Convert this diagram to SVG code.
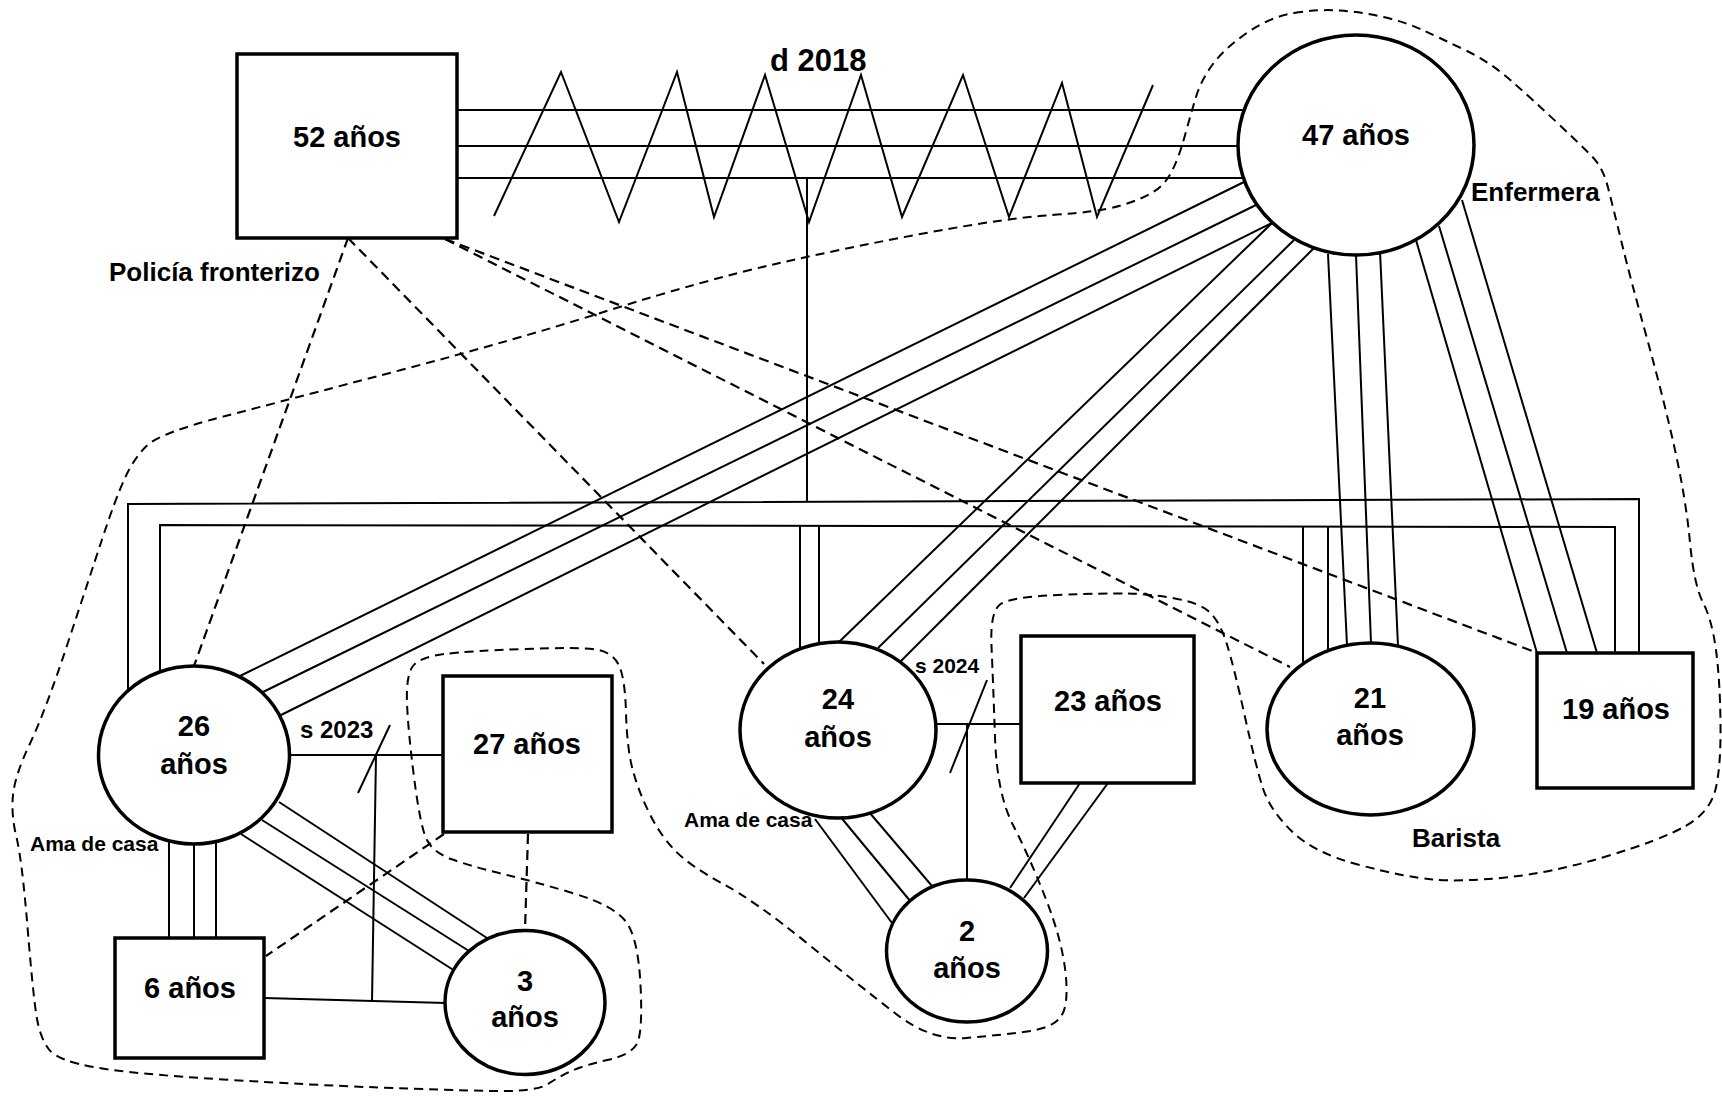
<svg xmlns="http://www.w3.org/2000/svg" width="1722" height="1102" viewBox="0 0 1722 1102">
<style>
.bg{fill:#fff}
.ln{stroke:#000;stroke-width:2;fill:none}
.ds{stroke:#000;stroke-width:2.2;fill:none;stroke-dasharray:10 6}
.en{stroke:#000;stroke-width:2;fill:none;stroke-dasharray:9 6}
.nd{stroke:#000;stroke-width:3.5;fill:#fff}
text{font-family:"Liberation Sans",Arial,sans-serif;font-weight:bold;fill:#000}
.nm{font-size:29px;text-anchor:middle}
.lb{font-size:26px}
.sm{font-size:21px}
</style>
<rect class="bg" x="0" y="0" width="1722" height="1102"/>
<g id="enclosure">
<path class="en" d="M 1294 13 Q 1318 9 1340 10.5 Q 1362 12 1383.5 17 Q 1405 22 1422.5 30 Q 1440 38 1465 50 Q 1490 62 1511.5 81 Q 1533 100 1558 123.5 Q 1583 147 1593 157.5 Q 1603 168 1608 187.5 Q 1613 207 1621.5 242 Q 1630 277 1647 338.5 Q 1664 400 1675 450 Q 1686 500 1690 542.5 Q 1694 585 1703 602.5 Q 1712 620 1716 650 Q 1720 680 1720.5 723.5 Q 1721 767 1715.5 789.5 Q 1710 812 1685.5 826 Q 1661 840 1606 856.5 Q 1551 873 1505.5 877.5 Q 1460 882 1432.5 879.5 Q 1405 877 1359.5 865 Q 1314 853 1292 831.5 Q 1270 810 1263 788.5 Q 1256 767 1245 717 Q 1234 667 1227 644.5 Q 1220 622 1210 612.5 Q 1200 603 1175 598.5 Q 1150 594 1128 593.5 Q 1106 593 1058 595 Q 1010 597 1000 604.5 Q 990 612 991.5 646 Q 993 680 995 737 Q 997 794 1013 825 Q 1029 856 1045.5 898 Q 1062 940 1065.5 972.5 Q 1069 1005 1061 1016.5 Q 1053 1028 1027 1031.5 Q 1001 1035 966 1038 Q 931 1041 895.5 1013.5 Q 860 986 807.5 943.5 Q 755 901 722.5 883.5 Q 690 866 675 850.5 Q 660 835 649 812.5 Q 638 790 632.5 769 Q 627 748 626 712.5 Q 625 677 618.5 664.5 Q 612 652 596 649.5 Q 580 647 524.5 649 Q 469 651 444.5 654 Q 420 657 413 666 Q 406 675 407 702.5 Q 408 730 414 777 Q 420 824 426 838 Q 432 852 451 859 Q 470 866 503 874 Q 536 882 574 893.5 Q 612 905 625 920.5 Q 638 936 640.5 985 Q 643 1034 636.5 1044.5 Q 630 1055 607.5 1060 Q 585 1065 572.5 1070.5 Q 560 1076 548 1084 Q 536 1092 491 1091 Q 446 1090 379 1087.5 Q 312 1085 223 1079.5 Q 134 1074 96 1067.5 Q 58 1061 49 1049.5 Q 40 1038 36.5 1016 Q 33 994 27.5 927 Q 22 860 16.5 837.5 Q 11 815 13 795 Q 15 775 30 743.5 Q 45 712 67 645.5 Q 89 579 102 539.5 Q 115 500 124.5 479 Q 134 458 147 445.5 Q 160 433 223.5 416.5 Q 287 400 401 370 Q 515 340 610 310 Q 705 280 777.5 263.5 Q 850 247 928.5 232.5 Q 1007 218 1052.5 215 Q 1098 212 1119 206 Q 1140 200 1152.5 192.5 Q 1165 185 1172 171 Q 1179 157 1184.5 137 Q 1190 117 1195.5 98.5 Q 1201 80 1213 64 Q 1225 48 1247.5 32.5 Q 1270 17 1294 13 Z"/>
</g>
<g id="connectors">
<line class="ln" x1="448" y1="110" x2="1244" y2="110"/>
<line class="ln" x1="457" y1="146" x2="1238" y2="146"/>
<line class="ln" x1="457" y1="178" x2="1243" y2="178"/>
<polyline class="ln" points="494,216 561,72 619,222 677,72 714,217 765,75 809,222 861,75 902,217 963,75 1009,217 1062,83 1097,217 1153,85"/>
<line class="ln" x1="807" y1="178" x2="807" y2="502"/>
<polyline class="ln" points="128,691 128,504 1639,499 1639,653"/>
<polyline class="ln" points="160,672 160,525 1615,527 1615,653"/>
<line class="ln" x1="800" y1="526" x2="800" y2="648"/>
<line class="ln" x1="819" y1="526" x2="819" y2="643"/>
<line class="ln" x1="1303" y1="527" x2="1303" y2="664"/>
<line class="ln" x1="1328" y1="527" x2="1328" y2="651"/>
<line class="ln" x1="1244" y1="182" x2="240" y2="676"/>
<line class="ln" x1="1256" y1="205" x2="263" y2="692"/>
<line class="ln" x1="1272" y1="223" x2="281" y2="715"/>
<line class="ln" x1="1272" y1="223" x2="839" y2="642"/>
<line class="ln" x1="1294" y1="240" x2="878" y2="648"/>
<line class="ln" x1="1314" y1="248" x2="901" y2="661"/>
<line class="ln" x1="1328" y1="254" x2="1347" y2="645"/>
<line class="ln" x1="1356" y1="255" x2="1371" y2="643"/>
<line class="ln" x1="1380" y1="251" x2="1398" y2="646"/>
<line class="ln" x1="1416" y1="240" x2="1537" y2="653"/>
<line class="ln" x1="1439" y1="226" x2="1567" y2="653"/>
<line class="ln" x1="1462" y1="200" x2="1597" y2="653"/>
<line class="ln" x1="289" y1="755" x2="443" y2="755"/>
<line class="ln" x1="390" y1="725" x2="358" y2="793"/>
<line class="ln" x1="376" y1="755" x2="372" y2="1002"/>
<line class="ln" x1="264" y1="998" x2="446" y2="1003"/>
<line class="ln" x1="169" y1="837" x2="169" y2="938"/>
<line class="ln" x1="194" y1="844" x2="194" y2="938"/>
<line class="ln" x1="216" y1="841" x2="216" y2="938"/>
<line class="ln" x1="279" y1="802" x2="487" y2="938"/>
<line class="ln" x1="262" y1="820" x2="469" y2="951"/>
<line class="ln" x1="241" y1="834" x2="455" y2="971"/>
<line class="ln" x1="936" y1="724" x2="1021" y2="724"/>
<line class="ln" x1="987" y1="680" x2="950" y2="773"/>
<line class="ln" x1="967" y1="724" x2="967" y2="880"/>
<line class="ln" x1="815" y1="819" x2="892" y2="923"/>
<line class="ln" x1="839" y1="815" x2="911" y2="902"/>
<line class="ln" x1="869" y1="812" x2="932" y2="886"/>
<line class="ln" x1="1080" y1="783" x2="1010" y2="888"/>
<line class="ln" x1="1108" y1="783" x2="1024" y2="898"/>
<line class="ds" x1="348" y1="238" x2="194" y2="666"/>
<line class="ds" x1="348" y1="238" x2="764" y2="664"/>
<line class="ds" x1="445" y1="239" x2="1290" y2="667"/>
<line class="ds" x1="445" y1="239" x2="1535" y2="652"/>
<line class="ds" x1="444" y1="834" x2="266" y2="956"/>
<line class="ds" x1="528" y1="834" x2="525" y2="930"/>
</g>
<g id="n52"><rect class="nd" x="237" y="54" width="220" height="184"/><text class="nm" x="347" y="147">52 años</text></g>
<g id="n47"><ellipse class="nd" cx="1356" cy="145" rx="118" ry="110"/><text class="nm" x="1356" y="145">47 años</text></g>
<g id="n26"><ellipse class="nd" cx="194" cy="755" rx="95.5" ry="89"/><text class="nm" x="194" y="736">26</text><text class="nm" x="194" y="774">años</text></g>
<g id="n27"><rect class="nd" x="443" y="676" width="169" height="156"/><text class="nm" x="527" y="754">27 años</text></g>
<g id="n6"><rect class="nd" x="115" y="938" width="149" height="120"/><text class="nm" x="190" y="998">6 años</text></g>
<g id="n3"><ellipse class="nd" cx="525" cy="1002.5" rx="80" ry="72"/><text class="nm" x="525" y="991">3</text><text class="nm" x="525" y="1027">años</text></g>
<g id="n24"><ellipse class="nd" cx="838" cy="730" rx="98" ry="88"/><text class="nm" x="838" y="709">24</text><text class="nm" x="838" y="747">años</text></g>
<g id="n23"><rect class="nd" x="1021" y="636" width="173" height="147"/><text class="nm" x="1108" y="711">23 años</text></g>
<g id="n2"><ellipse class="nd" cx="967" cy="951" rx="80.5" ry="71"/><text class="nm" x="967" y="941">2</text><text class="nm" x="967" y="978">años</text></g>
<g id="n21"><ellipse class="nd" cx="1370.5" cy="729" rx="103.5" ry="86"/><text class="nm" x="1370" y="708">21</text><text class="nm" x="1370" y="745">años</text></g>
<g id="n19"><rect class="nd" x="1537" y="653" width="156" height="135"/><text class="nm" x="1616" y="719">19 años</text></g>
<g id="labels">
<text x="770" y="71" style="font-size:31px">d 2018</text>
<text class="lb" x="109" y="281">Policía fronterizo</text>
<text class="lb" x="1471" y="201">Enfermera</text>
<text class="lb" x="1412" y="847">Barista</text>
<text x="300" y="738" style="font-size:24px">s 2023</text>
<text class="sm" x="915" y="673">s 2024</text>
<text class="sm" x="30" y="851">Ama de casa</text>
<text class="sm" x="684" y="827">Ama de casa</text>
</g>
</svg>
